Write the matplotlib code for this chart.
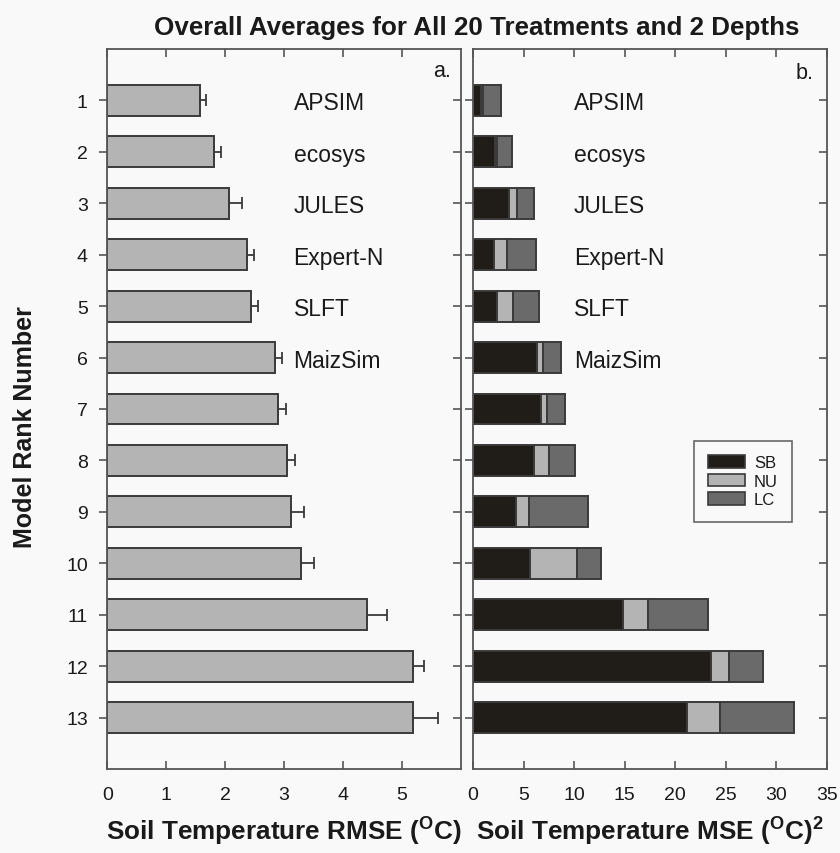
import matplotlib
matplotlib.use("Agg")
import matplotlib.pyplot as plt
import numpy as np
from matplotlib.patches import Patch

plt.rcParams['font.family'] = ['Liberation Sans', 'DejaVu Sans']
plt.rcParams['mathtext.default'] = 'regular'

ranks = list(range(1, 14))
model_names = ["APSIM", "ecosys", "JULES", "Expert-N", "SLFT", "MaizSim"]
rmse = [1.58, 1.81, 2.07, 2.37, 2.44, 2.85, 2.89, 3.04, 3.12, 3.29, 4.41, 5.18, 5.19]
rmse_err = [0.09, 0.12, 0.21, 0.12, 0.12, 0.12, 0.14, 0.15, 0.21, 0.21, 0.33, 0.20, 0.42]
mse_sb = [0.76, 2.18, 3.54, 2.12, 2.42, 6.36, 6.75, 6.06, 4.24, 5.66, 14.83, 23.60, 21.22]
mse_nu = [0.20, 0.24, 0.83, 1.26, 1.58, 0.59, 0.53, 1.49, 1.26, 4.60, 2.45, 1.75, 3.21]
mse_lc = [1.82, 1.42, 1.69, 2.88, 2.52, 1.76, 1.86, 2.55, 5.92, 2.38, 6.02, 3.38, 7.32]
legend_labels = ["SB", "NU", "LC"]

bg = '#f9f9f9'
edge = '#3a3a3a'
c_sb, c_nu, c_lc = '#201c17', '#b4b4b4', '#6a6a6a'
narrow = ['Liberation Sans Narrow', 'Liberation Sans', 'DejaVu Sans']

fig = plt.figure(figsize=(8.4, 8.54), dpi=100, facecolor=bg)
axL = fig.add_axes([107.3/840, 84/854, 353.7/840, 720/854], facecolor=bg)
axR = fig.add_axes([473/840, 84/854, 353.7/840, 720/854], facecolor=bg)

h = 0.6
y = np.array(ranks)
axL.barh(y, rmse, height=h, color='#b4b4b4', edgecolor=edge, linewidth=1.4, zorder=2)
axL.errorbar(rmse, y, xerr=[np.zeros(len(rmse)), rmse_err], fmt='none',
             ecolor=edge, elinewidth=1.3, capsize=4.3, capthick=1.3, zorder=3)

sb = np.array(mse_sb); nu = np.array(mse_nu); lc = np.array(mse_lc)
axR.barh(y, sb, height=h, color=c_sb, edgecolor=edge, linewidth=1.4, zorder=2)
axR.barh(y, nu, left=sb, height=h, color=c_nu, edgecolor=edge, linewidth=1.4, zorder=2)
axR.barh(y, lc, left=sb + nu, height=h, color=c_lc, edgecolor=edge, linewidth=1.4, zorder=2)

for i, name in enumerate(model_names):
    axL.text(3.16, ranks[i] + 0.05, name, fontsize=16.5, va='center', ha='left', color='#1a1a1a')
    axR.text(9.96, ranks[i] + 0.05, name, fontsize=16.5, va='center', ha='left', color='#1a1a1a')

axL.text(5.52, 0.42, "a.", fontsize=15.5, va='center', ha='left', color='#1a1a1a')
axR.text(31.9, 0.45, "b.", fontsize=15.5, va='center', ha='left', color='#1a1a1a')

for ax, xmax in ((axL, 6), (axR, 35)):
    ax.set_ylim(14, 0)
    ax.set_xlim(0, xmax)
    for s in ax.spines.values():
        s.set_color('#555555')
        s.set_linewidth(1.3)
    ax.tick_params(axis='x', direction='in', top=True, bottom=True, length=6, width=1.2,
                   color='#555555', labelsize=14, pad=12, labelcolor='#1a1a1a')
    ax.tick_params(axis='y', which='both', length=6, width=1.2, color='#555555')

axL.set_xticks([0, 1, 2, 3, 4, 5])
axR.set_xticks([0, 5, 10, 15, 20, 25, 30, 35])

axL.set_yticks(ranks)
axL.set_yticklabels([str(r) for r in ranks], fontsize=14, color='#1a1a1a')
axL.yaxis.set_ticks_position('left')
axL.tick_params(axis='y', direction='out', pad=8)
axLr = axL.secondary_yaxis('right')
axLr.set_yticks(ranks)
axLr.tick_params(direction='in', length=6, width=1.2, color='#555555', labelright=False)
axLr.spines['right'].set_visible(False)

axR.set_yticks(ranks)
axR.tick_params(axis='y', direction='out', left=True, labelleft=False)
axRr = axR.secondary_yaxis('right')
axRr.set_yticks(ranks)
axRr.tick_params(direction='in', length=6, width=1.2, color='#555555', labelright=False)
axRr.spines['right'].set_visible(False)

leg_handles = [Patch(facecolor=c, edgecolor=edge, linewidth=1.2) for c in (c_sb, c_nu, c_lc)]
leg = axR.legend(leg_handles, legend_labels, loc='upper left',
                 bbox_to_anchor=((694 - 473) / 353.7, (770 - 442) / 720),
                 fontsize=12, frameon=True, fancybox=False, edgecolor='#444444',
                 handlelength=2.2, handleheight=0.8, handletextpad=0.55, labelspacing=0.2,
                 borderpad=0.85, borderaxespad=0)
leg.get_frame().set_linewidth(1.2)
leg.get_frame().set_facecolor(bg)
for t in leg.get_texts():
    t.set_color('#1a1a1a')

axL.set_xlabel("Soil Temperature RMSE ($^{O}$C)", fontsize=18.8, fontweight='bold',
               family=narrow, labelpad=9, color='#1a1a1a')
axR.set_xlabel("Soil Temperature MSE ($^{O}$C)$^{2}$", fontsize=18.8, fontweight='bold',
               family=narrow, labelpad=9, color='#1a1a1a')
fig.text(0.030, 0.5, "Model Rank Number", rotation=90, fontsize=18, fontweight='bold',
         family=narrow, va='center', ha='center', color='#1a1a1a')
fig.text(477/840, 1 - 28/854, "Overall Averages for All 20 Treatments and 2 Depths", fontsize=18.7,
         fontweight='bold', family=narrow, va='center', ha='center', color='#1a1a1a')

fig.savefig("out.png", dpi=100, facecolor=bg)
